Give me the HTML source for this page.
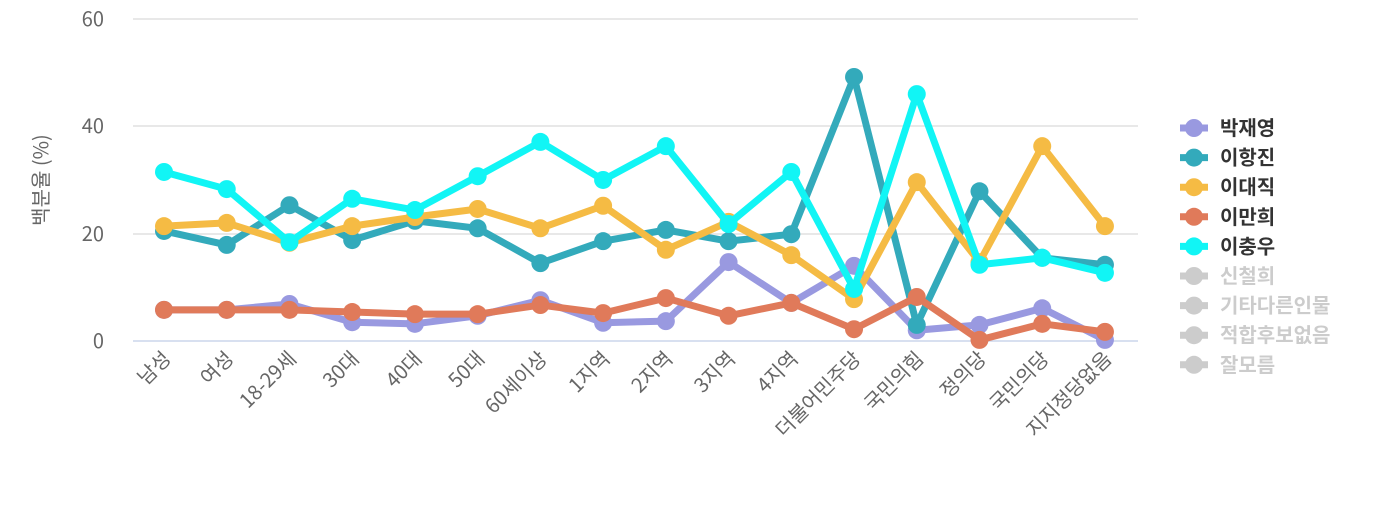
<!DOCTYPE html>
<html><head><meta charset="utf-8"><style>
html,body{margin:0;padding:0;background:#fff;}
svg text{font-family:"Noto Sans CJK KR","Liberation Sans",sans-serif;}
</style></head><body>
<svg width="1400" height="500" xmlns="http://www.w3.org/2000/svg">
<g stroke="#e0e0e0" stroke-width="1.5">
<line x1="133" y1="19" x2="1138" y2="19"/>
<line x1="133" y1="126" x2="1138" y2="126"/>
<line x1="133" y1="234" x2="1138" y2="234"/>
</g>
<line x1="133" y1="341" x2="1138" y2="341" stroke="#ccd6eb" stroke-width="1.5"/>
<g fill="#666" font-size="20" text-anchor="end">
<text x="104" y="26">60</text><text x="104" y="133">40</text><text x="104" y="241">20</text><text x="104" y="348">0</text>
</g>
<text transform="translate(48,180) rotate(-90)" text-anchor="middle" font-size="20" fill="#666">백분율 (%)</text>
<g fill="#666" font-size="20" text-anchor="end" id="xl"></g>
<g id="series"></g>
<g id="legend" font-size="20" font-weight="bold"></g>
<script>
var cats=["남성","여성","18-29세","30대","40대","50대","60세이상","1지역","2지역","3지역","4지역","더불어민주당","국민의힘","정의당","국민의당","지지정당없음"];
var X=i=>164+i*62.73, Y=v=>341-v*5.367;
var ns="http://www.w3.org/2000/svg";
var xl=document.getElementById("xl");
cats.forEach((c,i)=>{var t=document.createElementNS(ns,"text");var x=X(i)+8,y=360;t.setAttribute("transform","translate("+x+","+y+") rotate(-45)");t.textContent=c;xl.appendChild(t);});
var S=[
["박재영","#9999e0",[5.8,5.8,6.9,3.5,3.2,4.7,7.6,3.4,3.7,14.7,7.1,14,2.0,3.0,6.1,0.2]],
["이항진","#33aabb",[20.5,17.9,25.3,18.8,22.4,21,14.5,18.6,20.7,18.6,19.9,49.2,3,27.9,15.5,14.2]],
["이대직","#f5bb44",[21.4,22,18.3,21.4,23.1,24.6,21,25.2,17,22.2,16,7.8,29.6,14.7,36.3,21.4]],
["이만희","#e07a5a",[5.8,5.8,5.8,5.4,5,5,6.7,5.2,8,4.7,7.1,2.2,8.2,0.2,3.2,1.7]],
["이충우","#11f5f5",[31.5,28.3,18.4,26.5,24.4,30.7,37.1,30,36.3,21.8,31.5,9.7,46,14.2,15.5,12.7]]];
var g=document.getElementById("series");
S.forEach(s=>{var p=document.createElementNS(ns,"polyline");p.setAttribute("points",s[2].map((v,i)=>X(i)+","+Y(v)).join(" "));p.setAttribute("fill","none");p.setAttribute("stroke",s[1]);p.setAttribute("stroke-width","7");p.setAttribute("stroke-linejoin","round");g.appendChild(p);
s[2].forEach((v,i)=>{var c=document.createElementNS(ns,"circle");c.setAttribute("cx",X(i));c.setAttribute("cy",Y(v));c.setAttribute("r","9");c.setAttribute("fill",s[1]);g.appendChild(c);});});
var L=document.getElementById("legend");
var names=["박재영","이항진","이대직","이만희","이충우","신철희","기타다른인물","적합후보없음","잘모름"];
names.forEach((n,i)=>{var y=128+i*29.6;var col=i<5?S[i][1]:"#ccc";
var l=document.createElementNS(ns,"line");l.setAttribute("x1",1180);l.setAttribute("x2",1208);l.setAttribute("y1",y);l.setAttribute("y2",y);l.setAttribute("stroke",col);l.setAttribute("stroke-width","7");L.appendChild(l);
var c=document.createElementNS(ns,"circle");c.setAttribute("cx",1194);c.setAttribute("cy",y);c.setAttribute("r","9");c.setAttribute("fill",col);L.appendChild(c);
var t=document.createElementNS(ns,"text");t.setAttribute("x",1220);t.setAttribute("y",y+7);t.setAttribute("fill",i<5?"#333":"#ccc");t.textContent=n;L.appendChild(t);});
</script>
</svg>
</body></html>
